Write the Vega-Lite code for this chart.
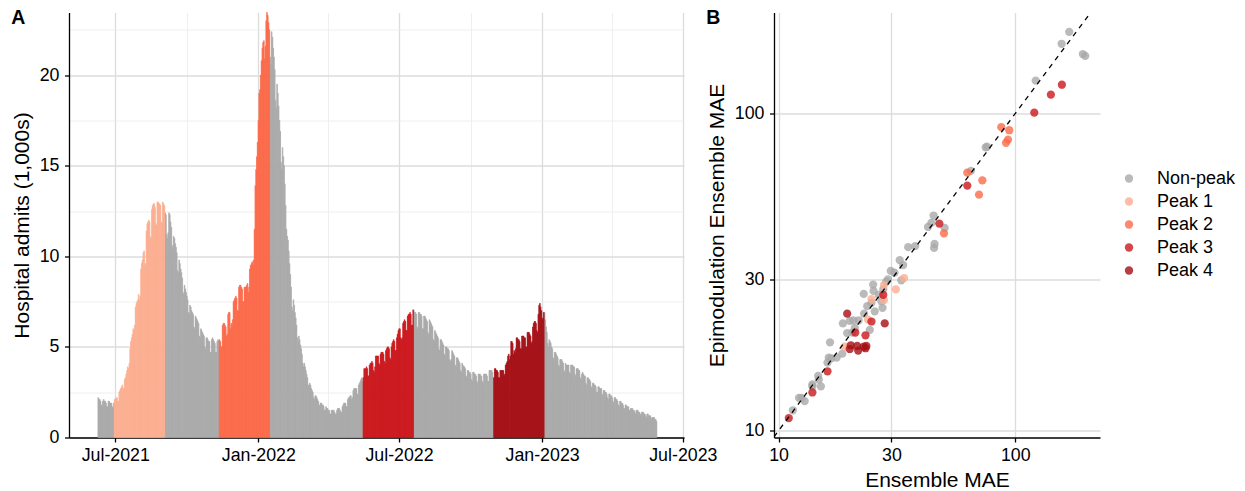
{
"$schema":"https://vega.github.io/schema/vega-lite/v6.json",
"background":"white",
"padding":{"left":11,"top":7.5,"right":5,"bottom":5},
"bounds":"flush",
"spacing":90,
"config":{
"font":"Liberation Sans",
"view":{"stroke":null},
"axis":{"labelFont":"Liberation Sans","labelFontSize":17.8,"labelColor":"#000000","titleFont":"Liberation Sans","titleFontSize":21,"titleFontWeight":"normal","titleColor":"#000000","domainColor":"#000000","domainWidth":1.3,"tickColor":"#000000","tickWidth":1.3,"tickSize":4.5,"gridColor":"#DCDCDC","gridWidth":1.3},
"axisX":{"labelPadding":4,"titlePadding":5.5},
"axisY":{"labelPadding":5.5,"titlePadding":7},
"legend":{"labelFont":"Liberation Sans","labelFontSize":18,"labelColor":"#000000"}
},
"datasets":{
"nonpeak":[
{"date":"2021-06-08","value":2.2},{"date":"2021-06-09","value":2.1},{"date":"2021-06-10","value":2.1},{"date":"2021-06-11","value":2.0},{"date":"2021-06-12","value":1.8},{"date":"2021-06-13","value":1.7},{"date":"2021-06-14","value":2.0},{"date":"2021-06-15","value":2.1},{"date":"2021-06-16","value":2.0},{"date":"2021-06-17","value":2.0},{"date":"2021-06-18","value":1.9},{"date":"2021-06-19","value":1.7},{"date":"2021-06-20","value":1.7},{"date":"2021-06-21","value":2.0},{"date":"2021-06-22","value":2.0},{"date":"2021-06-23","value":1.9},{"date":"2021-06-24","value":1.9},{"date":"2021-06-25","value":1.9},{"date":"2021-06-26","value":1.7},{"date":"2021-06-27","value":1.6},{"date":"2021-06-28","value":1.9},
{"date":"2021-09-02","value":12.4},{"date":"2021-09-03","value":12.3},{"date":"2021-09-04","value":11.2},{"date":"2021-09-05","value":11.0},{"date":"2021-09-06","value":11.3},{"date":"2021-09-07","value":12.4},{"date":"2021-09-08","value":12.3},{"date":"2021-09-09","value":11.9},{"date":"2021-09-10","value":11.6},{"date":"2021-09-11","value":10.6},{"date":"2021-09-12","value":10.4},{"date":"2021-09-13","value":11.1},{"date":"2021-09-14","value":11.0},{"date":"2021-09-15","value":10.7},{"date":"2021-09-16","value":10.5},{"date":"2021-09-17","value":10.2},{"date":"2021-09-18","value":9.2},{"date":"2021-09-19","value":9.1},{"date":"2021-09-20","value":9.8},{"date":"2021-09-21","value":9.6},{"date":"2021-09-22","value":9.3},{"date":"2021-09-23","value":9.1},{"date":"2021-09-24","value":8.8},{"date":"2021-09-25","value":8.0},{"date":"2021-09-26","value":7.9},{"date":"2021-09-27","value":8.4},{"date":"2021-09-28","value":8.2},{"date":"2021-09-29","value":8.0},{"date":"2021-09-30","value":7.8},
{"date":"2021-10-01","value":7.6},{"date":"2021-10-02","value":6.9},{"date":"2021-10-03","value":6.8},{"date":"2021-10-04","value":7.3},{"date":"2021-10-05","value":7.2},{"date":"2021-10-06","value":7.0},{"date":"2021-10-07","value":6.9},{"date":"2021-10-08","value":6.8},{"date":"2021-10-09","value":6.1},{"date":"2021-10-10","value":6.0},{"date":"2021-10-11","value":6.7},{"date":"2021-10-12","value":6.6},{"date":"2021-10-13","value":6.5},{"date":"2021-10-14","value":6.4},{"date":"2021-10-15","value":6.3},{"date":"2021-10-16","value":5.6},{"date":"2021-10-17","value":5.5},{"date":"2021-10-18","value":6.0},{"date":"2021-10-19","value":5.9},{"date":"2021-10-20","value":5.8},{"date":"2021-10-21","value":5.7},{"date":"2021-10-22","value":5.6},{"date":"2021-10-23","value":5.0},{"date":"2021-10-24","value":4.9},{"date":"2021-10-25","value":5.5},{"date":"2021-10-26","value":5.5},{"date":"2021-10-27","value":5.4},{"date":"2021-10-28","value":5.3},{"date":"2021-10-29","value":5.3},{"date":"2021-10-30","value":4.7},{"date":"2021-10-31","value":4.7},
{"date":"2021-11-01","value":5.4},{"date":"2021-11-02","value":5.5},{"date":"2021-11-03","value":5.4},{"date":"2021-11-04","value":5.3},{"date":"2021-11-05","value":5.2},{"date":"2021-11-06","value":4.7},{"date":"2021-11-07","value":4.7},{"date":"2021-11-08","value":5.3},{"date":"2021-11-09","value":5.4},{"date":"2021-11-10","value":5.3},
{"date":"2022-01-15","value":21.0},{"date":"2022-01-16","value":20.6},{"date":"2022-01-17","value":22.4},{"date":"2022-01-18","value":22.1},{"date":"2022-01-19","value":21.5},{"date":"2022-01-20","value":21.0},{"date":"2022-01-21","value":20.3},{"date":"2022-01-22","value":18.6},{"date":"2022-01-23","value":18.2},{"date":"2022-01-24","value":19.5},{"date":"2022-01-25","value":19.0},{"date":"2022-01-26","value":18.3},{"date":"2022-01-27","value":17.5},{"date":"2022-01-28","value":16.9},{"date":"2022-01-29","value":15.2},{"date":"2022-01-30","value":14.8},{"date":"2022-01-31","value":16.0},
{"date":"2022-02-01","value":15.5},{"date":"2022-02-02","value":15.0},{"date":"2022-02-03","value":14.0},{"date":"2022-02-04","value":12.8},{"date":"2022-02-05","value":11.5},{"date":"2022-02-06","value":11.1},{"date":"2022-02-07","value":10.9},{"date":"2022-02-08","value":10.3},{"date":"2022-02-09","value":9.6},{"date":"2022-02-10","value":9.0},{"date":"2022-02-11","value":8.3},{"date":"2022-02-12","value":7.2},{"date":"2022-02-13","value":7.0},{"date":"2022-02-14","value":7.6},{"date":"2022-02-15","value":7.3},{"date":"2022-02-16","value":6.9},{"date":"2022-02-17","value":6.6},{"date":"2022-02-18","value":6.2},{"date":"2022-02-19","value":5.5},{"date":"2022-02-20","value":5.3},{"date":"2022-02-21","value":5.6},{"date":"2022-02-22","value":5.4},{"date":"2022-02-23","value":5.1},{"date":"2022-02-24","value":4.9},{"date":"2022-02-25","value":4.6},{"date":"2022-02-26","value":4.1},{"date":"2022-02-27","value":3.9},{"date":"2022-02-28","value":4.1},
{"date":"2022-03-01","value":3.9},{"date":"2022-03-02","value":3.7},{"date":"2022-03-03","value":3.5},{"date":"2022-03-04","value":3.3},{"date":"2022-03-05","value":2.9},{"date":"2022-03-06","value":2.8},{"date":"2022-03-07","value":3.0},{"date":"2022-03-08","value":2.9},{"date":"2022-03-09","value":2.7},{"date":"2022-03-10","value":2.6},{"date":"2022-03-11","value":2.5},{"date":"2022-03-12","value":2.2},{"date":"2022-03-13","value":2.1},{"date":"2022-03-14","value":2.3},{"date":"2022-03-15","value":2.3},{"date":"2022-03-16","value":2.2},{"date":"2022-03-17","value":2.1},{"date":"2022-03-18","value":2.0},{"date":"2022-03-19","value":1.8},{"date":"2022-03-20","value":1.7},{"date":"2022-03-21","value":1.9},{"date":"2022-03-22","value":1.9},{"date":"2022-03-23","value":1.8},{"date":"2022-03-24","value":1.8},{"date":"2022-03-25","value":1.7},{"date":"2022-03-26","value":1.5},{"date":"2022-03-27","value":1.5},{"date":"2022-03-28","value":1.7},{"date":"2022-03-29","value":1.6},{"date":"2022-03-30","value":1.6},{"date":"2022-03-31","value":1.5},
{"date":"2022-04-01","value":1.5},{"date":"2022-04-02","value":1.3},{"date":"2022-04-03","value":1.3},{"date":"2022-04-04","value":1.5},{"date":"2022-04-05","value":1.5},{"date":"2022-04-06","value":1.5},{"date":"2022-04-07","value":1.5},{"date":"2022-04-08","value":1.4},{"date":"2022-04-09","value":1.3},{"date":"2022-04-10","value":1.3},{"date":"2022-04-11","value":1.5},{"date":"2022-04-12","value":1.6},{"date":"2022-04-13","value":1.6},{"date":"2022-04-14","value":1.6},{"date":"2022-04-15","value":1.5},{"date":"2022-04-16","value":1.4},{"date":"2022-04-17","value":1.4},{"date":"2022-04-18","value":1.7},{"date":"2022-04-19","value":1.8},{"date":"2022-04-20","value":1.9},{"date":"2022-04-21","value":1.9},{"date":"2022-04-22","value":1.9},{"date":"2022-04-23","value":1.7},{"date":"2022-04-24","value":1.7},{"date":"2022-04-25","value":2.1},{"date":"2022-04-26","value":2.2},{"date":"2022-04-27","value":2.2},{"date":"2022-04-28","value":2.3},{"date":"2022-04-29","value":2.3},{"date":"2022-04-30","value":2.1},
{"date":"2022-05-01","value":2.2},{"date":"2022-05-02","value":2.6},{"date":"2022-05-03","value":2.7},{"date":"2022-05-04","value":2.7},{"date":"2022-05-05","value":2.7},{"date":"2022-05-06","value":2.7},{"date":"2022-05-07","value":2.4},{"date":"2022-05-08","value":2.4},{"date":"2022-05-09","value":2.9},{"date":"2022-05-10","value":3.0},{"date":"2022-05-11","value":3.1},{"date":"2022-05-12","value":3.2},{"date":"2022-05-13","value":3.3},{"date":"2022-05-14","value":3.1},
{"date":"2022-07-19","value":7.0},{"date":"2022-07-20","value":6.9},{"date":"2022-07-21","value":6.9},{"date":"2022-07-22","value":6.8},{"date":"2022-07-23","value":6.1},{"date":"2022-07-24","value":6.0},{"date":"2022-07-25","value":6.9},{"date":"2022-07-26","value":6.9},{"date":"2022-07-27","value":6.8},{"date":"2022-07-28","value":6.8},{"date":"2022-07-29","value":6.7},{"date":"2022-07-30","value":6.0},{"date":"2022-07-31","value":6.0},
{"date":"2022-08-01","value":6.7},{"date":"2022-08-02","value":6.7},{"date":"2022-08-03","value":6.6},{"date":"2022-08-04","value":6.5},{"date":"2022-08-05","value":6.4},{"date":"2022-08-06","value":5.8},{"date":"2022-08-07","value":5.7},{"date":"2022-08-08","value":6.5},{"date":"2022-08-09","value":6.4},{"date":"2022-08-10","value":6.3},{"date":"2022-08-11","value":6.2},{"date":"2022-08-12","value":6.1},{"date":"2022-08-13","value":5.4},{"date":"2022-08-14","value":5.3},{"date":"2022-08-15","value":5.9},{"date":"2022-08-16","value":5.8},{"date":"2022-08-17","value":5.7},{"date":"2022-08-18","value":5.6},{"date":"2022-08-19","value":5.5},{"date":"2022-08-20","value":4.9},{"date":"2022-08-21","value":4.8},{"date":"2022-08-22","value":5.4},{"date":"2022-08-23","value":5.4},{"date":"2022-08-24","value":5.3},{"date":"2022-08-25","value":5.2},{"date":"2022-08-26","value":5.1},{"date":"2022-08-27","value":4.6},{"date":"2022-08-28","value":4.5},{"date":"2022-08-29","value":5.0},{"date":"2022-08-30","value":5.0},{"date":"2022-08-31","value":4.9},
{"date":"2022-09-01","value":4.9},{"date":"2022-09-02","value":4.8},{"date":"2022-09-03","value":4.3},{"date":"2022-09-04","value":4.2},{"date":"2022-09-05","value":4.3},{"date":"2022-09-06","value":4.8},{"date":"2022-09-07","value":4.7},{"date":"2022-09-08","value":4.6},{"date":"2022-09-09","value":4.5},{"date":"2022-09-10","value":4.0},{"date":"2022-09-11","value":3.9},{"date":"2022-09-12","value":4.4},{"date":"2022-09-13","value":4.4},{"date":"2022-09-14","value":4.3},{"date":"2022-09-15","value":4.2},{"date":"2022-09-16","value":4.1},{"date":"2022-09-17","value":3.7},{"date":"2022-09-18","value":3.6},{"date":"2022-09-19","value":4.1},{"date":"2022-09-20","value":4.0},{"date":"2022-09-21","value":3.9},{"date":"2022-09-22","value":3.9},{"date":"2022-09-23","value":3.8},{"date":"2022-09-24","value":3.4},{"date":"2022-09-25","value":3.3},{"date":"2022-09-26","value":3.7},{"date":"2022-09-27","value":3.7},{"date":"2022-09-28","value":3.6},{"date":"2022-09-29","value":3.6},{"date":"2022-09-30","value":3.5},
{"date":"2022-10-01","value":3.2},{"date":"2022-10-02","value":3.1},{"date":"2022-10-03","value":3.6},{"date":"2022-10-04","value":3.6},{"date":"2022-10-05","value":3.5},{"date":"2022-10-06","value":3.5},{"date":"2022-10-07","value":3.4},{"date":"2022-10-08","value":3.1},{"date":"2022-10-09","value":3.0},{"date":"2022-10-10","value":3.5},{"date":"2022-10-11","value":3.5},{"date":"2022-10-12","value":3.5},{"date":"2022-10-13","value":3.4},{"date":"2022-10-14","value":3.4},{"date":"2022-10-15","value":3.1},{"date":"2022-10-16","value":3.0},{"date":"2022-10-17","value":3.5},{"date":"2022-10-18","value":3.5},{"date":"2022-10-19","value":3.5},{"date":"2022-10-20","value":3.5},{"date":"2022-10-21","value":3.4},{"date":"2022-10-22","value":3.1},{"date":"2022-10-23","value":3.1},{"date":"2022-10-24","value":3.7},{"date":"2022-10-25","value":3.7},{"date":"2022-10-26","value":3.7},{"date":"2022-10-27","value":3.7},{"date":"2022-10-28","value":3.6},{"date":"2022-10-29","value":3.3},
{"date":"2023-01-03","value":6.9},{"date":"2023-01-04","value":6.5},{"date":"2023-01-05","value":6.1},{"date":"2023-01-06","value":5.8},{"date":"2023-01-07","value":5.2},{"date":"2023-01-08","value":5.0},{"date":"2023-01-09","value":5.4},{"date":"2023-01-10","value":5.3},{"date":"2023-01-11","value":5.2},{"date":"2023-01-12","value":5.0},{"date":"2023-01-13","value":4.9},{"date":"2023-01-14","value":4.4},{"date":"2023-01-15","value":4.3},{"date":"2023-01-16","value":4.7},{"date":"2023-01-17","value":4.7},{"date":"2023-01-18","value":4.6},{"date":"2023-01-19","value":4.5},{"date":"2023-01-20","value":4.4},{"date":"2023-01-21","value":4.0},{"date":"2023-01-22","value":3.9},{"date":"2023-01-23","value":4.3},{"date":"2023-01-24","value":4.3},{"date":"2023-01-25","value":4.3},{"date":"2023-01-26","value":4.2},{"date":"2023-01-27","value":4.1},{"date":"2023-01-28","value":3.7},{"date":"2023-01-29","value":3.6},{"date":"2023-01-30","value":4.1},{"date":"2023-01-31","value":4.0},
{"date":"2023-02-01","value":4.0},{"date":"2023-02-02","value":4.0},{"date":"2023-02-03","value":4.0},{"date":"2023-02-04","value":3.6},{"date":"2023-02-05","value":3.5},{"date":"2023-02-06","value":4.0},{"date":"2023-02-07","value":4.0},{"date":"2023-02-08","value":4.0},{"date":"2023-02-09","value":3.9},{"date":"2023-02-10","value":3.9},{"date":"2023-02-11","value":3.5},{"date":"2023-02-12","value":3.4},{"date":"2023-02-13","value":3.8},{"date":"2023-02-14","value":3.8},{"date":"2023-02-15","value":3.8},{"date":"2023-02-16","value":3.7},{"date":"2023-02-17","value":3.7},{"date":"2023-02-18","value":3.3},{"date":"2023-02-19","value":3.2},{"date":"2023-02-20","value":3.5},{"date":"2023-02-21","value":3.6},{"date":"2023-02-22","value":3.5},{"date":"2023-02-23","value":3.4},{"date":"2023-02-24","value":3.4},{"date":"2023-02-25","value":3.0},{"date":"2023-02-26","value":2.9},{"date":"2023-02-27","value":3.3},{"date":"2023-02-28","value":3.3},
{"date":"2023-03-01","value":3.2},{"date":"2023-03-02","value":3.2},{"date":"2023-03-03","value":3.1},{"date":"2023-03-04","value":2.8},{"date":"2023-03-05","value":2.7},{"date":"2023-03-06","value":3.0},{"date":"2023-03-07","value":3.0},{"date":"2023-03-08","value":2.9},{"date":"2023-03-09","value":2.9},{"date":"2023-03-10","value":2.8},{"date":"2023-03-11","value":2.5},{"date":"2023-03-12","value":2.5},{"date":"2023-03-13","value":2.8},{"date":"2023-03-14","value":2.8},{"date":"2023-03-15","value":2.7},{"date":"2023-03-16","value":2.7},{"date":"2023-03-17","value":2.7},{"date":"2023-03-18","value":2.4},{"date":"2023-03-19","value":2.3},{"date":"2023-03-20","value":2.6},{"date":"2023-03-21","value":2.6},{"date":"2023-03-22","value":2.5},{"date":"2023-03-23","value":2.5},{"date":"2023-03-24","value":2.4},{"date":"2023-03-25","value":2.2},{"date":"2023-03-26","value":2.1},{"date":"2023-03-27","value":2.4},{"date":"2023-03-28","value":2.4},{"date":"2023-03-29","value":2.3},{"date":"2023-03-30","value":2.3},{"date":"2023-03-31","value":2.2},
{"date":"2023-04-01","value":2.0},{"date":"2023-04-02","value":1.9},{"date":"2023-04-03","value":2.2},{"date":"2023-04-04","value":2.2},{"date":"2023-04-05","value":2.1},{"date":"2023-04-06","value":2.1},{"date":"2023-04-07","value":2.0},{"date":"2023-04-08","value":1.8},{"date":"2023-04-09","value":1.7},{"date":"2023-04-10","value":2.0},{"date":"2023-04-11","value":2.0},{"date":"2023-04-12","value":1.9},{"date":"2023-04-13","value":1.9},{"date":"2023-04-14","value":1.8},{"date":"2023-04-15","value":1.6},{"date":"2023-04-16","value":1.6},{"date":"2023-04-17","value":1.8},{"date":"2023-04-18","value":1.8},{"date":"2023-04-19","value":1.7},{"date":"2023-04-20","value":1.7},{"date":"2023-04-21","value":1.7},{"date":"2023-04-22","value":1.5},{"date":"2023-04-23","value":1.5},{"date":"2023-04-24","value":1.6},{"date":"2023-04-25","value":1.6},{"date":"2023-04-26","value":1.6},{"date":"2023-04-27","value":1.5},{"date":"2023-04-28","value":1.5},{"date":"2023-04-29","value":1.4},{"date":"2023-04-30","value":1.3},
{"date":"2023-05-01","value":1.5},{"date":"2023-05-02","value":1.5},{"date":"2023-05-03","value":1.5},{"date":"2023-05-04","value":1.4},{"date":"2023-05-05","value":1.4},{"date":"2023-05-06","value":1.3},{"date":"2023-05-07","value":1.2},{"date":"2023-05-08","value":1.4},{"date":"2023-05-09","value":1.4},{"date":"2023-05-10","value":1.4},{"date":"2023-05-11","value":1.3},{"date":"2023-05-12","value":1.3},{"date":"2023-05-13","value":1.2},{"date":"2023-05-14","value":1.1},{"date":"2023-05-15","value":1.3},{"date":"2023-05-16","value":1.3},{"date":"2023-05-17","value":1.2},{"date":"2023-05-18","value":1.2},{"date":"2023-05-19","value":1.2},{"date":"2023-05-20","value":1.1},{"date":"2023-05-21","value":1.0},{"date":"2023-05-22","value":1.1},{"date":"2023-05-23","value":1.1},{"date":"2023-05-24","value":1.1},{"date":"2023-05-25","value":1.0},{"date":"2023-05-26","value":1.0},{"date":"2023-05-27","value":0.9}
],
"peak1":[
{"date":"2021-06-29","value":2.1},{"date":"2021-06-30","value":2.1},{"date":"2021-07-01","value":2.2},{"date":"2021-07-02","value":2.2},{"date":"2021-07-03","value":2.0},{"date":"2021-07-04","value":2.0},{"date":"2021-07-05","value":2.5},{"date":"2021-07-06","value":2.6},{"date":"2021-07-07","value":2.7},{"date":"2021-07-08","value":2.8},{"date":"2021-07-09","value":2.9},{"date":"2021-07-10","value":2.7},{"date":"2021-07-11","value":2.7},{"date":"2021-07-12","value":3.2},{"date":"2021-07-13","value":3.3},{"date":"2021-07-14","value":3.5},{"date":"2021-07-15","value":3.7},{"date":"2021-07-16","value":3.9},{"date":"2021-07-17","value":3.8},{"date":"2021-07-18","value":4.1},{"date":"2021-07-19","value":4.9},{"date":"2021-07-20","value":5.3},{"date":"2021-07-21","value":5.5},{"date":"2021-07-22","value":5.7},{"date":"2021-07-23","value":6.0},{"date":"2021-07-24","value":5.9},{"date":"2021-07-25","value":6.2},{"date":"2021-07-26","value":7.2},{"date":"2021-07-27","value":7.4},{"date":"2021-07-28","value":7.5},{"date":"2021-07-29","value":7.6},{"date":"2021-07-30","value":7.9},{"date":"2021-07-31","value":7.6},
{"date":"2021-08-01","value":7.8},{"date":"2021-08-02","value":9.3},{"date":"2021-08-03","value":9.6},{"date":"2021-08-04","value":9.8},{"date":"2021-08-05","value":10.2},{"date":"2021-08-06","value":10.3},{"date":"2021-08-07","value":9.5},{"date":"2021-08-08","value":9.6},{"date":"2021-08-09","value":11.4},{"date":"2021-08-10","value":11.8},{"date":"2021-08-11","value":11.9},{"date":"2021-08-12","value":12.0},{"date":"2021-08-13","value":11.9},{"date":"2021-08-14","value":11.0},{"date":"2021-08-15","value":11.1},{"date":"2021-08-16","value":12.6},{"date":"2021-08-17","value":12.8},{"date":"2021-08-18","value":12.9},{"date":"2021-08-19","value":12.9},{"date":"2021-08-20","value":12.7},{"date":"2021-08-21","value":11.8},{"date":"2021-08-22","value":11.7},{"date":"2021-08-23","value":13.0},{"date":"2021-08-24","value":13.0},{"date":"2021-08-25","value":12.9},{"date":"2021-08-26","value":12.9},{"date":"2021-08-27","value":12.8},{"date":"2021-08-28","value":11.9},{"date":"2021-08-29","value":11.8},{"date":"2021-08-30","value":13.0},{"date":"2021-08-31","value":12.9},{"date":"2021-09-01","value":12.8}
],
"peak2":[
{"date":"2021-11-11","value":5.4},{"date":"2021-11-12","value":5.3},{"date":"2021-11-13","value":5.0},{"date":"2021-11-14","value":5.0},{"date":"2021-11-15","value":6.2},{"date":"2021-11-16","value":6.3},{"date":"2021-11-17","value":6.3},{"date":"2021-11-18","value":6.2},{"date":"2021-11-19","value":6.1},{"date":"2021-11-20","value":5.6},{"date":"2021-11-21","value":5.7},{"date":"2021-11-22","value":6.8},{"date":"2021-11-23","value":6.9},{"date":"2021-11-24","value":6.9},{"date":"2021-11-25","value":6.0},{"date":"2021-11-26","value":6.3},{"date":"2021-11-27","value":6.2},{"date":"2021-11-28","value":6.5},{"date":"2021-11-29","value":7.5},{"date":"2021-11-30","value":7.6},
{"date":"2021-12-01","value":7.7},{"date":"2021-12-02","value":7.8},{"date":"2021-12-03","value":7.7},{"date":"2021-12-04","value":7.0},{"date":"2021-12-05","value":7.0},{"date":"2021-12-06","value":8.3},{"date":"2021-12-07","value":8.4},{"date":"2021-12-08","value":8.4},{"date":"2021-12-09","value":8.3},{"date":"2021-12-10","value":8.2},{"date":"2021-12-11","value":7.5},{"date":"2021-12-12","value":7.5},{"date":"2021-12-13","value":8.3},{"date":"2021-12-14","value":8.3},{"date":"2021-12-15","value":8.3},{"date":"2021-12-16","value":8.4},{"date":"2021-12-17","value":8.5},{"date":"2021-12-18","value":8.0},{"date":"2021-12-19","value":8.3},{"date":"2021-12-20","value":9.3},{"date":"2021-12-21","value":9.5},{"date":"2021-12-22","value":9.6},{"date":"2021-12-23","value":9.7},{"date":"2021-12-24","value":9.5},{"date":"2021-12-25","value":9.8},{"date":"2021-12-26","value":11.5},{"date":"2021-12-27","value":13.9},{"date":"2021-12-28","value":14.8},{"date":"2021-12-29","value":15.5},{"date":"2021-12-30","value":16.3},{"date":"2021-12-31","value":17.5},
{"date":"2022-01-01","value":19.0},{"date":"2022-01-02","value":19.2},{"date":"2022-01-03","value":20.0},{"date":"2022-01-04","value":20.8},{"date":"2022-01-05","value":21.5},{"date":"2022-01-06","value":21.8},{"date":"2022-01-07","value":21.9},{"date":"2022-01-08","value":20.9},{"date":"2022-01-09","value":21.6},{"date":"2022-01-10","value":23.0},{"date":"2022-01-11","value":23.46},{"date":"2022-01-12","value":23.3},{"date":"2022-01-13","value":22.9},{"date":"2022-01-14","value":22.5}
],
"peak3":[
{"date":"2022-05-15","value":3.3},{"date":"2022-05-16","value":3.8},{"date":"2022-05-17","value":3.8},{"date":"2022-05-18","value":3.8},{"date":"2022-05-19","value":3.9},{"date":"2022-05-20","value":3.8},{"date":"2022-05-21","value":3.4},{"date":"2022-05-22","value":3.4},{"date":"2022-05-23","value":4.0},{"date":"2022-05-24","value":4.1},{"date":"2022-05-25","value":4.1},{"date":"2022-05-26","value":4.2},{"date":"2022-05-27","value":4.1},{"date":"2022-05-28","value":3.7},{"date":"2022-05-29","value":3.6},{"date":"2022-05-30","value":3.9},{"date":"2022-05-31","value":4.5},
{"date":"2022-06-01","value":4.5},{"date":"2022-06-02","value":4.5},{"date":"2022-06-03","value":4.5},{"date":"2022-06-04","value":4.1},{"date":"2022-06-05","value":4.0},{"date":"2022-06-06","value":4.6},{"date":"2022-06-07","value":4.7},{"date":"2022-06-08","value":4.7},{"date":"2022-06-09","value":4.7},{"date":"2022-06-10","value":4.6},{"date":"2022-06-11","value":4.2},{"date":"2022-06-12","value":4.1},{"date":"2022-06-13","value":4.8},{"date":"2022-06-14","value":4.9},{"date":"2022-06-15","value":5.0},{"date":"2022-06-16","value":5.0},{"date":"2022-06-17","value":4.9},{"date":"2022-06-18","value":4.4},{"date":"2022-06-19","value":4.3},{"date":"2022-06-20","value":5.0},{"date":"2022-06-21","value":5.2},{"date":"2022-06-22","value":5.3},{"date":"2022-06-23","value":5.4},{"date":"2022-06-24","value":5.3},{"date":"2022-06-25","value":4.8},{"date":"2022-06-26","value":4.8},{"date":"2022-06-27","value":5.5},{"date":"2022-06-28","value":5.7},{"date":"2022-06-29","value":5.9},{"date":"2022-06-30","value":6.0},
{"date":"2022-07-01","value":6.0},{"date":"2022-07-02","value":5.5},{"date":"2022-07-03","value":5.4},{"date":"2022-07-04","value":5.5},{"date":"2022-07-05","value":6.3},{"date":"2022-07-06","value":6.4},{"date":"2022-07-07","value":6.5},{"date":"2022-07-08","value":6.4},{"date":"2022-07-09","value":5.9},{"date":"2022-07-10","value":5.9},{"date":"2022-07-11","value":6.7},{"date":"2022-07-12","value":6.8},{"date":"2022-07-13","value":6.8},{"date":"2022-07-14","value":6.9},{"date":"2022-07-15","value":6.8},{"date":"2022-07-16","value":6.2},{"date":"2022-07-17","value":6.2},{"date":"2022-07-18","value":7.05}
],
"peak4":[
{"date":"2022-10-30","value":3.3},{"date":"2022-10-31","value":3.8},{"date":"2022-11-01","value":3.8},{"date":"2022-11-02","value":3.7},{"date":"2022-11-03","value":3.7},{"date":"2022-11-04","value":3.6},{"date":"2022-11-05","value":3.3},{"date":"2022-11-06","value":3.3},{"date":"2022-11-07","value":3.7},{"date":"2022-11-08","value":3.7},{"date":"2022-11-09","value":3.7},{"date":"2022-11-10","value":3.7},{"date":"2022-11-11","value":3.7},{"date":"2022-11-12","value":3.4},{"date":"2022-11-13","value":3.5},{"date":"2022-11-14","value":4.0},{"date":"2022-11-15","value":4.1},{"date":"2022-11-16","value":4.2},{"date":"2022-11-17","value":4.5},{"date":"2022-11-18","value":4.6},{"date":"2022-11-19","value":4.3},{"date":"2022-11-20","value":4.5},{"date":"2022-11-21","value":5.3},{"date":"2022-11-22","value":5.3},{"date":"2022-11-23","value":5.2},{"date":"2022-11-24","value":4.6},{"date":"2022-11-25","value":4.8},{"date":"2022-11-26","value":4.7},{"date":"2022-11-27","value":4.9},{"date":"2022-11-28","value":5.5},{"date":"2022-11-29","value":5.5},{"date":"2022-11-30","value":5.4},
{"date":"2022-12-01","value":5.4},{"date":"2022-12-02","value":5.3},{"date":"2022-12-03","value":4.9},{"date":"2022-12-04","value":4.9},{"date":"2022-12-05","value":5.6},{"date":"2022-12-06","value":5.6},{"date":"2022-12-07","value":5.6},{"date":"2022-12-08","value":5.5},{"date":"2022-12-09","value":5.5},{"date":"2022-12-10","value":5.0},{"date":"2022-12-11","value":5.0},{"date":"2022-12-12","value":5.8},{"date":"2022-12-13","value":5.8},{"date":"2022-12-14","value":5.8},{"date":"2022-12-15","value":5.7},{"date":"2022-12-16","value":5.6},{"date":"2022-12-17","value":5.2},{"date":"2022-12-18","value":5.3},{"date":"2022-12-19","value":6.1},{"date":"2022-12-20","value":6.3},{"date":"2022-12-21","value":6.4},{"date":"2022-12-22","value":6.4},{"date":"2022-12-23","value":6.3},{"date":"2022-12-24","value":5.9},{"date":"2022-12-25","value":5.8},{"date":"2022-12-26","value":6.8},{"date":"2022-12-27","value":7.3},{"date":"2022-12-28","value":7.4},{"date":"2022-12-29","value":7.2},{"date":"2022-12-30","value":7.0},{"date":"2022-12-31","value":6.5},{"date":"2023-01-01","value":6.6},{"date":"2023-01-02","value":6.9}
],
"mae":[
{"ensemble":169,"epimod":181,"period":"Non-peak"},{"ensemble":157,"epimod":166,"period":"Non-peak"},{"ensemble":193,"epimod":154,"period":"Non-peak"},{"ensemble":197.5,"epimod":152,"period":"Non-peak"},{"ensemble":122,"epimod":127,"period":"Non-peak"},{"ensemble":76,"epimod":78.6,"period":"Non-peak"},{"ensemble":75,"epimod":78.2,"period":"Non-peak"},{"ensemble":65,"epimod":66,"period":"Non-peak"},{"ensemble":45.2,"epimod":47.7,"period":"Non-peak"},{"ensemble":42.8,"epimod":43.9,"period":"Non-peak"},{"ensemble":44.2,"epimod":45.2,"period":"Non-peak"},{"ensemble":50.3,"epimod":43.6,"period":"Non-peak"},{"ensemble":35.3,"epimod":37.9,"period":"Non-peak"},{"ensemble":37.8,"epimod":38.2,"period":"Non-peak"},{"ensemble":45.6,"epimod":38.8,"period":"Non-peak"},{"ensemble":45.4,"epimod":37.7,"period":"Non-peak"},{"ensemble":32.5,"epimod":34.5,"period":"Non-peak"},{"ensemble":33.6,"epimod":33.3,"period":"Non-peak"},{"ensemble":29.8,"epimod":31.9,"period":"Non-peak"},{"ensemble":30.9,"epimod":31.5,"period":"Non-peak"},{"ensemble":33.0,"epimod":29.8,"period":"Non-peak"},{"ensemble":29.0,"epimod":30.0,"period":"Non-peak"},{"ensemble":25.1,"epimod":28.9,"period":"Non-peak"},{"ensemble":25.2,"epimod":27.6,"period":"Non-peak"},{"ensemble":27.7,"epimod":27.9,"period":"Non-peak"},{"ensemble":22.9,"epimod":27.0,"period":"Non-peak"},{"ensemble":24.7,"epimod":25.3,"period":"Non-peak"},{"ensemble":23.7,"epimod":24.7,"period":"Non-peak"},{"ensemble":25.5,"epimod":23.8,"period":"Non-peak"},{"ensemble":27.5,"epimod":24.4,"period":"Non-peak"},{"ensemble":27.2,"epimod":25.6,"period":"Non-peak"},{"ensemble":26.5,"epimod":26.8,"period":"Non-peak"},{"ensemble":28.5,"epimod":29.5,"period":"Non-peak"},{"ensemble":23.0,"epimod":23.4,"period":"Non-peak"},{"ensemble":21.8,"epimod":22.3,"period":"Non-peak"},{"ensemble":20.7,"epimod":22.3,"period":"Non-peak"},{"ensemble":20.0,"epimod":22.2,"period":"Non-peak"},{"ensemble":18.7,"epimod":21.8,"period":"Non-peak"},{"ensemble":21.0,"epimod":21.1,"period":"Non-peak"},{"ensemble":20.5,"epimod":20.4,"period":"Non-peak"},{"ensemble":19.5,"epimod":20.3,"period":"Non-peak"},{"ensemble":24.3,"epimod":20.8,"period":"Non-peak"},{"ensemble":16.5,"epimod":19.0,"period":"Non-peak"},{"ensemble":18.6,"epimod":17.5,"period":"Non-peak"},{"ensemble":16.3,"epimod":17.0,"period":"Non-peak"},{"ensemble":16.1,"epimod":16.4,"period":"Non-peak"},{"ensemble":16.7,"epimod":16.9,"period":"Non-peak"},{"ensemble":17.6,"epimod":17.0,"period":"Non-peak"},{"ensemble":14.7,"epimod":14.9,"period":"Non-peak"},{"ensemble":14.8,"epimod":14.5,"period":"Non-peak"},{"ensemble":15.1,"epimod":13.8,"period":"Non-peak"},{"ensemble":13.9,"epimod":14.0,"period":"Non-peak"},{"ensemble":13.9,"epimod":13.8,"period":"Non-peak"},{"ensemble":12.2,"epimod":12.7,"period":"Non-peak"},{"ensemble":12.5,"epimod":12.7,"period":"Non-peak"},{"ensemble":12.9,"epimod":12.4,"period":"Non-peak"},{"ensemble":11.5,"epimod":11.6,"period":"Non-peak"},
{"ensemble":27.9,"epimod":28.8,"period":"Peak 1"},{"ensemble":33.9,"epimod":30.3,"period":"Peak 1"},{"ensemble":31.3,"epimod":27.9,"period":"Peak 1"},{"ensemble":27.9,"epimod":25.8,"period":"Peak 1"},{"ensemble":24.7,"epimod":26.0,"period":"Peak 1"},{"ensemble":23.9,"epimod":22.4,"period":"Peak 1"},{"ensemble":19.0,"epimod":18.4,"period":"Peak 1"},
{"ensemble":87.3,"epimod":90.6,"period":"Peak 2"},{"ensemble":94.3,"epimod":88.6,"period":"Peak 2"},{"ensemble":93.2,"epimod":82.8,"period":"Peak 2"},{"ensemble":91.4,"epimod":80.9,"period":"Peak 2"},{"ensemble":62.7,"epimod":65.1,"period":"Peak 2"},{"ensemble":72.6,"epimod":61.6,"period":"Peak 2"},{"ensemble":70.3,"epimod":55.5,"period":"Peak 2"},{"ensemble":50.0,"epimod":41.9,"period":"Peak 2"},
{"ensemble":157.4,"epimod":123.3,"period":"Peak 3"},{"ensemble":141.4,"epimod":114.7,"period":"Peak 3"},{"ensemble":120.3,"epimod":100.7,"period":"Peak 3"},{"ensemble":62.7,"epimod":59.3,"period":"Peak 3"},{"ensemble":47.8,"epimod":45.0,"period":"Peak 3"},{"ensemble":27.7,"epimod":26.8,"period":"Peak 3"},{"ensemble":21.1,"epimod":20.4,"period":"Peak 3"},{"ensemble":24.7,"epimod":22.1,"period":"Peak 3"},{"ensemble":23.3,"epimod":20.0,"period":"Peak 3"},{"ensemble":16.1,"epimod":15.4,"period":"Peak 3"},{"ensemble":13.9,"epimod":13.2,"period":"Peak 3"},{"ensemble":11.05,"epimod":10.96,"period":"Peak 3"},
{"ensemble":19.5,"epimod":23.4,"period":"Peak 4"},{"ensemble":28.1,"epimod":21.8,"period":"Peak 4"},{"ensemble":20.2,"epimod":18.6,"period":"Peak 4"},{"ensemble":20.0,"epimod":18.1,"period":"Peak 4"},{"ensemble":21.7,"epimod":17.9,"period":"Peak 4"},{"ensemble":21.5,"epimod":18.5,"period":"Peak 4"},{"ensemble":22.9,"epimod":18.4,"period":"Peak 4"},{"ensemble":23.5,"epimod":18.5,"period":"Peak 4"},{"ensemble":23.3,"epimod":18.2,"period":"Peak 4"}
],
"identity":[{"ensemble":9.57,"epimod":9.57},{"ensemble":208.3,"epimod":208.3}]
},
"hconcat":[
{
"width":615,"height":425,
"title":{"text":"A","anchor":"start","frame":"bounds","fontSize":19.5,"fontWeight":"bold","color":"#000000","offset":0,"dy":16},
"encoding":{
"x":{"field":"date","type":"temporal","timeUnit":"utcyearmonthdate","title":null,
"scale":{"domain":[{"year":2021,"month":5,"date":2,"hours":12,"utc":true},{"year":2023,"month":7,"date":2,"hours":12,"utc":true}]},
"axis":{"values":[{"year":2021,"month":7,"date":1,"utc":true},{"year":2021,"month":10,"date":1,"utc":true},{"year":2022,"month":1,"date":1,"utc":true},{"year":2022,"month":4,"date":1,"utc":true},{"year":2022,"month":7,"date":1,"utc":true},{"year":2022,"month":10,"date":1,"utc":true},{"year":2023,"month":1,"date":1,"utc":true},{"year":2023,"month":4,"date":1,"utc":true},{"year":2023,"month":7,"date":1,"utc":true}],
"labelExpr":"utcmonth(datum.value) % 6 == 0 ? utcFormat(datum.value, '%b-%Y') : ''",
"gridColor":{"condition":{"test":"utcmonth(datum.value) % 6 == 0","value":"#DCDCDC"},"value":"#EBEBEB"},
"gridWidth":{"condition":{"test":"utcmonth(datum.value) % 6 == 0","value":1.3},"value":0.8},
"tickOpacity":{"condition":{"test":"utcmonth(datum.value) % 6 == 0","value":1},"value":0}}},
"y":{"field":"value","type":"quantitative","title":"Hospital admits (1,000s)",
"scale":{"domain":[0,23.46],"nice":false,"zero":true},
"axis":{"values":[0,2.5,5,7.5,10,12.5,15,17.5,20,22.5],
"labelExpr":"datum.value % 5 == 0 ? datum.label : ''",
"gridColor":{"condition":{"test":"datum.value % 5 == 0","value":"#DCDCDC"},"value":"#EBEBEB"},
"gridWidth":{"condition":{"test":"datum.value % 5 == 0","value":1.3},"value":0.8},
"tickOpacity":{"condition":{"test":"datum.value % 5 == 0","value":1},"value":0}}}
},
"layer":[
{"data":{"name":"nonpeak"},"mark":{"type":"bar","color":"#A9A9A9","stroke":"#A9A9A9","strokeWidth":0.6,"binSpacing":0}},
{"data":{"name":"peak1"},"mark":{"type":"bar","color":"#FCAE91","stroke":"#FCAE91","strokeWidth":0.6,"binSpacing":0}},
{"data":{"name":"peak2"},"mark":{"type":"bar","color":"#FB6A4A","stroke":"#FB6A4A","strokeWidth":0.6,"binSpacing":0}},
{"data":{"name":"peak3"},"mark":{"type":"bar","color":"#CB181D","stroke":"#CB181D","strokeWidth":0.6,"binSpacing":0}},
{"data":{"name":"peak4"},"mark":{"type":"bar","color":"#A50F15","stroke":"#A50F15","strokeWidth":0.6,"binSpacing":0}}
]
},
{
"width":326,"height":425,
"title":{"text":"B","anchor":"start","frame":"bounds","fontSize":19.5,"fontWeight":"bold","color":"#000000","offset":0,"dy":16},
"encoding":{
"x":{"field":"ensemble","type":"quantitative","title":"Ensemble MAE","scale":{"type":"log","domain":[9.57,228],"nice":false},"axis":{"values":[10,30,100],"format":"d"}},
"y":{"field":"epimod","type":"quantitative","title":"Epimodulation Ensemble MAE","scale":{"type":"log","domain":[9.52,208.3],"nice":false},"axis":{"values":[10,30,100],"format":"d"}}
},
"layer":[
{"data":{"name":"mae"},"mark":{"type":"circle","size":68,"opacity":0.8},
"encoding":{"color":{"field":"period","type":"nominal",
"scale":{"domain":["Non-peak","Peak 1","Peak 2","Peak 3","Peak 4"],"range":["#A9A9A9","#FCAE91","#FB6A4A","#CB181D","#A50F15"]},
"legend":{"title":null,"orient":"none","legendX":346,"legendY":157,"symbolType":"circle","symbolSize":70,"symbolOpacity":0.8,"labelOffset":19,"rowPadding":5,"labelFontSize":18}}}},
{"data":{"name":"identity"},"mark":{"type":"line","color":"#000000","strokeDash":[5,5],"strokeWidth":1.3,"clip":true}}
]
}
],
"resolve":{"scale":{"color":"independent"},"legend":{"color":"independent"}}
}
